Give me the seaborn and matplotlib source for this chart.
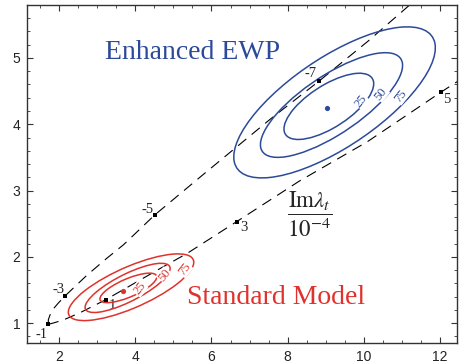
import numpy as np
import pandas as pd
import seaborn as sns
import matplotlib.pyplot as plt
from matplotlib.patches import Ellipse

# dashed curves (x, y)
upper_x = [1.72, 1.72, 1.77, 1.86, 1.98, 2.16, 2.73, 3.26, 3.69, 4.51, 5.76, 7.55, 8.82, 10.1, 11.3]
upper_y = [0.98, 1.05, 1.13, 1.22, 1.30, 1.41, 1.72, 1.98, 2.18, 2.63, 3.23, 4.08, 4.65, 5.25, 5.85]
lower_x = [1.72, 1.85, 2.11, 2.55, 3.22, 4.66, 5.36, 6.66, 8.30, 10.10, 12.01, 12.60]
lower_y = [0.98, 1.00, 1.045, 1.155, 1.35, 1.825, 2.05, 2.53, 3.14, 3.74, 4.48, 4.70]

# labelled points on the curves (Im lambda_t / 1e-4)
pt_labels = ["-1", "-3", "-5", "-7", "1", "3", "5"]
pt_x = [1.72, 2.16, 4.51, 8.82, 3.22, 6.66, 12.01]
pt_y = [0.98, 1.41, 2.63, 4.65, 1.35, 2.53, 4.48]
lab_x = [1.54, 1.98, 4.33, 8.61, 3.39, 6.85, 12.18]
lab_y = [0.83, 1.50, 2.71, 4.77, 1.27, 2.44, 4.38]

# confidence contours (percent), centre / full width / full height / angle
levels = ["25", "50", "75"]
ewp_cx = [9.08, 9.15, 9.23]
ewp_cy = [4.27, 4.29, 4.33]
ewp_w = [2.46, 3.93, 5.56]
ewp_h = [0.70, 0.98, 1.50]
ewp_ang = [17.6, 19.0, 18.7]
ewp_lab_x = [9.92, 10.45, 10.96]
ewp_lab_y = [4.35, 4.46, 4.42]
ewp_best = (9.04, 4.25)

sm_cx = [3.82, 3.80, 3.89]
sm_cy = [1.53, 1.53, 1.54]
sm_w = [1.53, 2.31, 3.38]
sm_h = [0.29, 0.44, 0.65]
sm_ang = [13.0, 15.3, 13.4]
sm_lab_x = [4.11, 4.77, 5.29]
sm_lab_y = [1.52, 1.72, 1.81]
sm_best = (3.69, 1.49)

blue = "#2c4a9a"
red = "#e0322c"

sns.set_style("ticks")
plt.rcParams["font.family"] = ["Liberation Serif", "DejaVu Serif"]
plt.rcParams["mathtext.fontset"] = "stix"

fig = plt.figure(figsize=(4.65, 3.64), dpi=100)
ax = fig.add_axes([0.0587, 0.0585, 0.9247, 0.9269])

up = pd.DataFrame({"x": upper_x, "y": upper_y})
lo = pd.DataFrame({"x": lower_x, "y": lower_y})
for d in (up, lo):
    sns.lineplot(data=d, x="x", y="y", sort=False, estimator=None, ax=ax,
                 color="black", linewidth=0.8, linestyle=(0, (9.5, 6.3)))

pts = pd.DataFrame({"x": pt_x, "y": pt_y})
sns.scatterplot(data=pts, x="x", y="y", ax=ax, marker="s", s=10,
                color="black", linewidth=0, zorder=4)
for t, x, y in zip(pt_labels, lab_x, lab_y):
    ax.text(x, y, t, fontsize=10.5, ha="center", va="center")

def draw_set(cx, cy, w, h, ang, lx, ly, best, col):
    for i in range(len(levels)):
        ax.add_patch(Ellipse((cx[i], cy[i]), w[i], h[i], angle=ang[i],
                             fill=False, edgecolor=col, linewidth=1.1, zorder=3))
        ax.text(lx[i], ly[i], levels[i], color=col, fontsize=9, rotation=52,
                ha="center", va="center", zorder=5,
                bbox=dict(facecolor="white", edgecolor="none", pad=0.3))
    sns.scatterplot(x=[best[0]], y=[best[1]], ax=ax, color=col, s=14,
                    linewidth=0, zorder=5)

draw_set(ewp_cx, ewp_cy, ewp_w, ewp_h, ewp_ang, ewp_lab_x, ewp_lab_y, ewp_best, blue)
draw_set(sm_cx, sm_cy, sm_w, sm_h, sm_ang, sm_lab_x, sm_lab_y, sm_best, red)

ax.text(3.21, 5.08, "Enhanced EWP", color=blue, fontsize=20, va="center")
ax.text(5.36, 1.38, "Standard Model", color=red, fontsize=20, va="center")
ax.text(8.58, 2.64, r"$\dfrac{\mathrm{Im}\lambda_t}{10^{-4}}$", fontsize=16.5,
        ha="center", va="center")

ax.set_xlim(1.168, 12.45)
ax.set_ylim(0.703, 5.795)
ax.set_xticks([2, 4, 6, 8, 10, 12])
ax.set_yticks([1, 2, 3, 4, 5])
ax.set_xticks(np.arange(1.5, 12.5, 0.5), minor=True)
ax.set_yticks(np.arange(0.8, 5.8, 0.2), minor=True)
ax.set_xlabel("")
ax.set_ylabel("")
ax.tick_params(which="both", direction="in", top=True, right=True,
               colors="#333333", labelcolor="#222222")
ax.tick_params(which="major", length=4, width=0.8, pad=5)
ax.tick_params(which="minor", length=2.5, width=0.6)
for lab in ax.get_xticklabels() + ax.get_yticklabels():
    lab.set_fontfamily("Liberation Sans")
    lab.set_fontsize(10)
for s in ax.spines.values():
    s.set_color("#333333")
    s.set_linewidth(1.0)

fig.savefig("out.png", dpi=100)
